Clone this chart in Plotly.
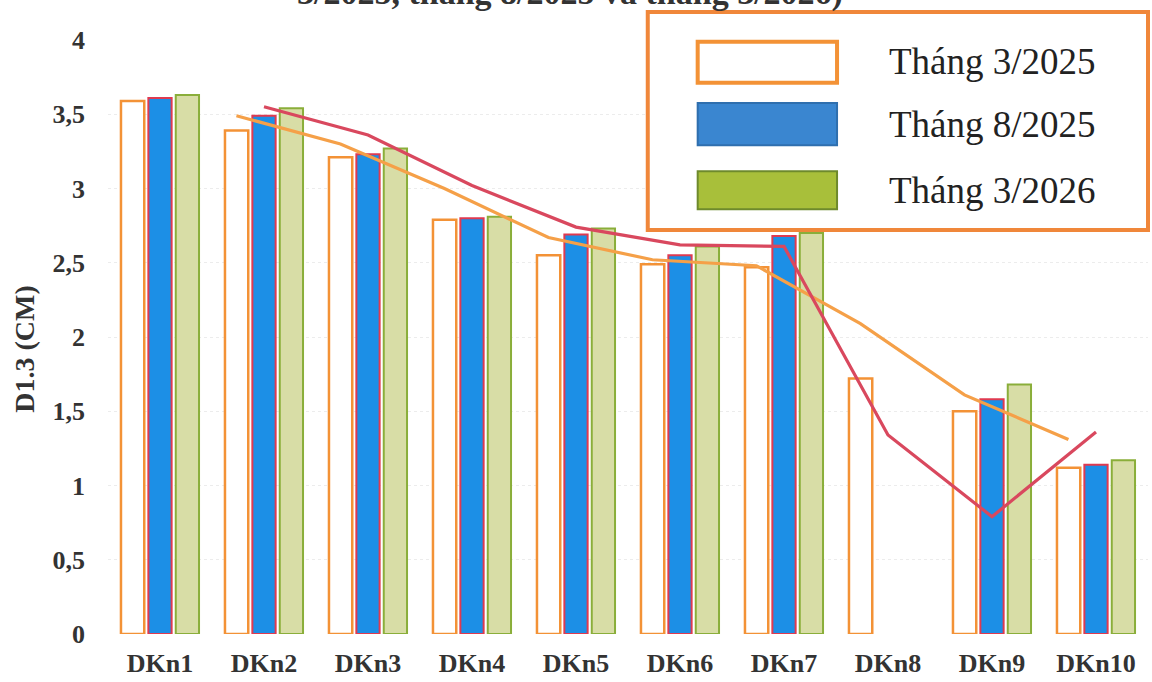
import plotly.graph_objects as go

# D1.3 (cm) per plot, three measurement dates
categories = ["DKn1", "DKn2", "DKn3", "DKn4", "DKn5", "DKn6", "DKn7", "DKn8", "DKn9", "DKn10"]
d13_2025_03 = [3.59, 3.39, 3.21, 2.79, 2.55, 2.49, 2.47, 1.72, 1.50, 1.12]
d13_2025_08 = [3.61, 3.49, 3.23, 2.80, 2.69, 2.55, 2.68, None, 1.58, 1.14]
d13_2026_03 = [3.63, 3.54, 3.27, 2.81, 2.73, 2.61, 2.70, None, 1.68, 1.17]

# two-period moving-average trend lines
trend_2025_03 = [None, 3.49, 3.30, 3.00, 2.67, 2.52, 2.48, 2.09, 1.61, 1.31]
trend_2025_08 = [None, 3.55, 3.36, 3.02, 2.74, 2.62, 2.61, 1.34, 0.79, 1.36]

series_names = ["Tháng 3/2025", "Tháng 8/2025", "Tháng 3/2026"]
y_ticks = [0, 0.5, 1, 1.5, 2, 2.5, 3, 3.5, 4]
y_tick_text = ["0", "0,5", "1", "1,5", "2", "2,5", "3", "3,5", "4"]

SERIF = "Liberation Serif, Times New Roman, serif"
ORANGE = "#F39236"
BLUE = "#1C8FE6"
RED = "#DF3A50"
GREEN_FILL = "#D8DDA6"
GREEN_EDGE = "#8AAE3A"

idx = list(range(len(categories)))
white_offset = -0.265  # centre of the first bar in each group

fig = go.Figure()
fig.add_bar(x=idx, y=d13_2025_03, name=series_names[0],
            marker=dict(color="white", line=dict(color=ORANGE, width=2.5)))
fig.add_bar(x=idx, y=d13_2025_08, name=series_names[1],
            marker=dict(color=BLUE, line=dict(color=RED, width=2)))
fig.add_bar(x=idx, y=d13_2026_03, name=series_names[2],
            marker=dict(color=GREEN_FILL, line=dict(color=GREEN_EDGE, width=2)))

fig.add_scatter(x=[i + white_offset for i in idx], y=trend_2025_03, mode="lines",
                line=dict(color="#F5A048", width=3.2), showlegend=False, hoverinfo="skip")
fig.add_scatter(x=idx, y=trend_2025_08, mode="lines",
                line=dict(color="#D9485E", width=3.2), showlegend=False, hoverinfo="skip")

# boxed legend with large swatches
shapes = [
    dict(type="rect", xref="paper", yref="paper", x0=0.519, x1=1.0, y0=0.680, y1=1.047,
         line=dict(color="#F0873A", width=4), fillcolor="white", layer="above"),
    dict(type="rect", xref="paper", yref="paper", x0=0.567, x1=0.701, y0=0.928, y1=0.997,
         line=dict(color=ORANGE, width=4), fillcolor="white", layer="above"),
    dict(type="rect", xref="paper", yref="paper", x0=0.567, x1=0.701, y0=0.823, y1=0.894,
         line=dict(color="#2F6FAE", width=2), fillcolor="#3A86D0", layer="above"),
    dict(type="rect", xref="paper", yref="paper", x0=0.567, x1=0.701, y0=0.715, y1=0.779,
         line=dict(color="#6E8A2C", width=2), fillcolor="#A8BF3A", layer="above"),
]
annotations = [
    dict(xref="paper", yref="paper", x=0.749, y=yy, xanchor="left", yanchor="middle",
         text=name, showarrow=False, font=dict(family=SERIF, size=37, color="#222"))
    for name, yy in zip(series_names, [0.963, 0.857, 0.747])
]
annotations.append(dict(xref="paper", yref="paper", x=-0.080, y=0.48, textangle=-90,
                        xanchor="center", yanchor="middle",
                        text="<b>D1.3 (CM)</b>", showarrow=False,
                        font=dict(family=SERIF, size=28, color="#333")))
annotations.append(dict(xref="paper", yref="paper", x=0.444, y=1.0438, yanchor="bottom",
                        xanchor="center",
                        text="<b>3/2025, tháng 8/2025 và tháng 3/2026)</b>", showarrow=False,
                        font=dict(family=SERIF, size=34, color="#333")))

fig.update_layout(
    width=1152, height=682,
    margin=dict(l=108, r=4, t=40, b=48),
    paper_bgcolor="white", plot_bgcolor="white",
    barmode="group", bargap=0.21, bargroupgap=0.15,
    showlegend=False,
    shapes=shapes, annotations=annotations,
    xaxis=dict(range=[-0.5, 9.5], tickvals=idx, ticktext=categories,
               showgrid=False, zeroline=False, showline=False, ticks="",
               ticklabelstandoff=11,
               tickfont=dict(family=SERIF, size=26, color="#333", weight="bold")),
    yaxis=dict(range=[0, 4], tickvals=y_ticks, ticktext=y_tick_text,
               showgrid=True, gridcolor="#ececec", griddash="dot", gridwidth=1,
               zeroline=False, showline=False, ticks="", ticklabelstandoff=22,
               tickfont=dict(family=SERIF, size=26, color="#333", weight="bold")),
)

fig.write_html("out.html")
